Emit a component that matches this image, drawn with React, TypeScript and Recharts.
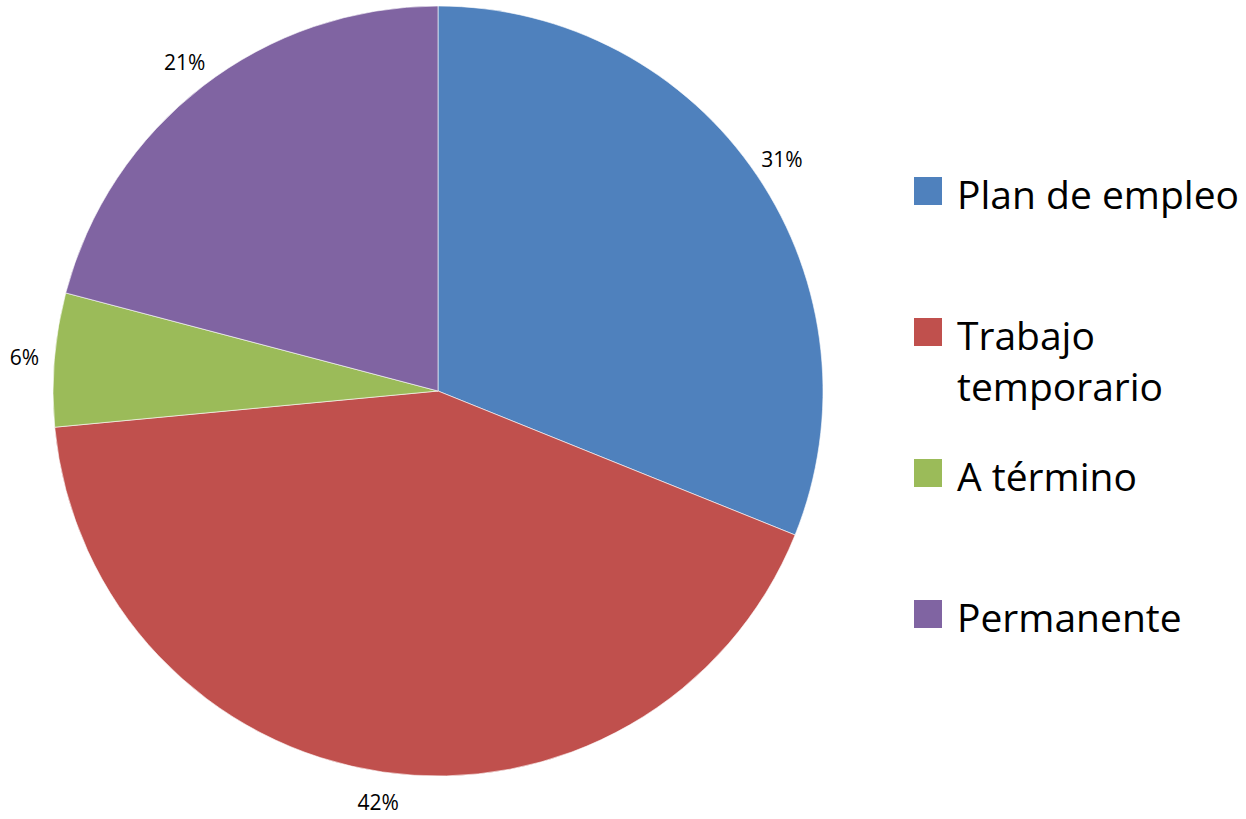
import { PieChart, Pie, Cell, Legend } from 'recharts';

const categories = ['Plan de empleo', 'Trabajo temporario', 'A término', 'Permanente'];
const shares = [31.1, 42.4, 5.6, 20.9];
const colors = ['#4F81BD', '#C0504D', '#9BBB59', '#8064A2'];

const data = categories.map((name, i) => ({ name, value: shares[i] }));

const RADIAN = Math.PI / 180;
const FONT = '"Open Sans", sans-serif';

function renderLabel(props: any) {
  const { cx, cy, midAngle, outerRadius, percent } = props;
  const r = outerRadius + 30;
  const x = cx + r * Math.cos(-midAngle * RADIAN);
  const y = cy + r * Math.sin(-midAngle * RADIAN);
  return (
    <text
      x={x}
      y={y}
      fill="#000"
      textAnchor="middle"
      dominantBaseline="central"
      fontSize={21}
      fontFamily={FONT}
    >
      {`${Math.round(percent * 100)}%`}
    </text>
  );
}

function LegendList() {
  return (
    <div style={{ fontFamily: FONT }}>
      {categories.map((name, i) => (
        <div key={name} style={{ display: 'flex', alignItems: 'flex-start', height: 141 }}>
          <div
            style={{
              width: 28,
              height: 28,
              marginTop: 9,
              background: colors[i],
              flex: '0 0 auto',
            }}
          />
          <div
            style={{
              marginLeft: 15,
              width: 289,
              fontSize: 39,
              lineHeight: '51px',
              color: '#000',
            }}
          >
            {name}
          </div>
        </div>
      ))}
    </div>
  );
}

export default function App() {
  return (
    <div style={{ width: 1246, height: 819, overflow: 'hidden', position: 'relative' }}>
      <style>{`body{margin:0;}`}</style>
      <PieChart width={1246} height={819} margin={{ top: 0, right: 0, bottom: 0, left: 0 }}>
        <Pie
          data={data}
          dataKey="value"
          nameKey="name"
          cx={438}
          cy={391}
          outerRadius={385}
          startAngle={90}
          endAngle={-270}
          stroke="#ffffff"
          strokeWidth={0.6}
          label={renderLabel}
          labelLine={false}
          isAnimationActive={false}
        >
          {data.map((d, i) => (
            <Cell key={d.name} fill={colors[i]} />
          ))}
        </Pie>
        <Legend
          layout="vertical"
          align="right"
          verticalAlign="top"
          content={() => <LegendList />}
          wrapperStyle={{ left: 914, top: 168, width: 332, right: 'auto' }}
        />
      </PieChart>
    </div>
  );
}
